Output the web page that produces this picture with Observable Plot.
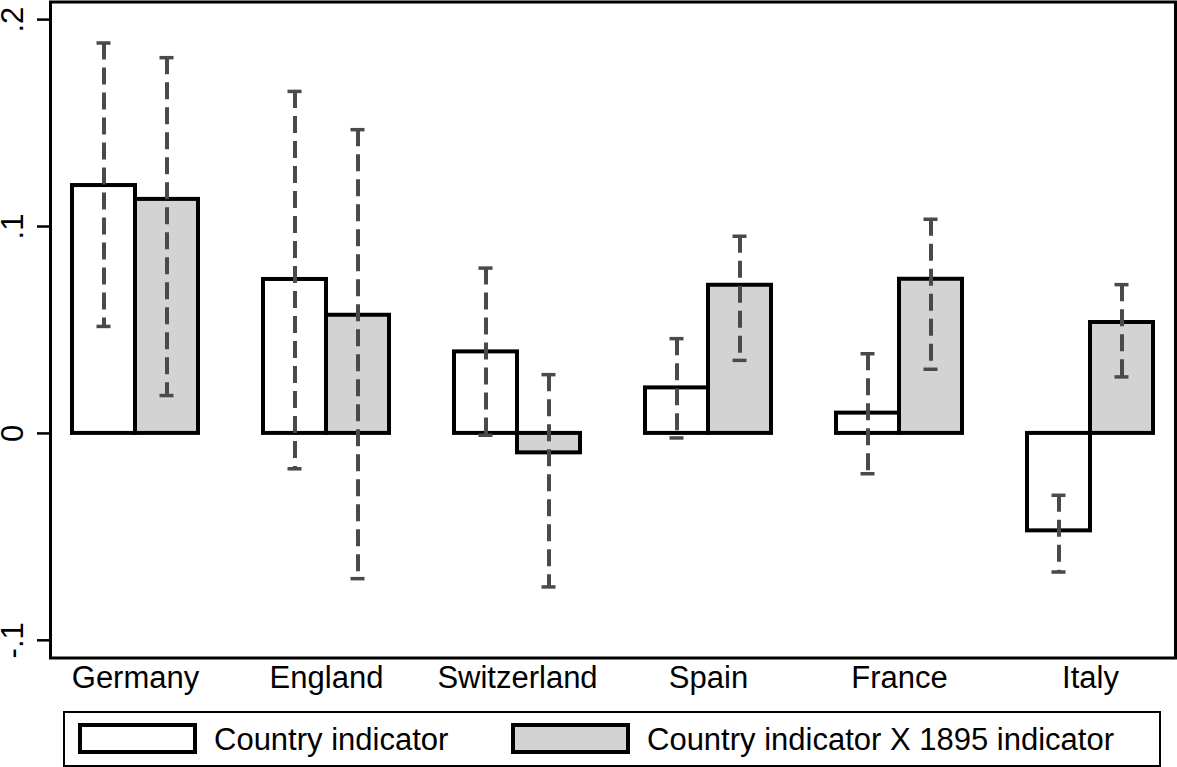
<!DOCTYPE html>
<html>
<head>
<meta charset="utf-8">
<script src="https://cdn.jsdelivr.net/npm/d3@7"></script>
<script src="https://cdn.jsdelivr.net/npm/@observablehq/plot@0.6"></script>
<style>
  html, body { margin: 0; padding: 0; background: white; }
  #wrap { position: relative; width: 1177px; height: 767px; overflow: hidden; font-family: "Liberation Sans", Arial, Helvetica, sans-serif; }
  #chart { position: absolute; left: 0; top: 0; }
  .legend-box { position: absolute; left: 63px; top: 711px; width: 1098px; height: 56px; border: 2px solid black; box-sizing: border-box; }
  .sw { position: absolute; top: 723px; width: 119px; height: 31px; border: 4px solid black; box-sizing: border-box; }
  .lt { position: absolute; top: 724px; font-size: 31px; line-height: 31px; color: black; white-space: nowrap; }
</style>
</head>
<body>
<div id="wrap">
  <div id="chart"></div>
  <div class="legend-box"></div>
  <div class="sw" id="sw0" style="left:78px"></div>
  <div class="lt" id="lt0" style="left:214px"></div>
  <div class="sw" id="sw1" style="left:511px"></div>
  <div class="lt" id="lt1" style="left:647px"></div>
</div>
<script>
// ---- data ----
const countries = ["Germany", "England", "Switzerland", "Spain", "France", "Italy"];
// Country indicator (white bars)
const countryCoef = [0.1198, 0.0744, 0.0394, 0.0220, 0.0098, -0.0471];
const countryLo   = [0.0517, -0.0171, -0.0009, -0.0022, -0.0195, -0.0670];
const countryHi   = [0.1887, 0.1653, 0.0799, 0.0458, 0.0385, -0.0299];
// Country indicator X 1895 indicator (gray bars)
const interCoef = [0.1131, 0.0571, -0.0094, 0.0716, 0.0745, 0.0536];
const interLo   = [0.0183, -0.0702, -0.0742, 0.0353, 0.0310, 0.0273];
const interHi   = [0.1816, 0.1468, 0.0284, 0.0953, 0.1035, 0.0719];
const yTicks = [-0.1, 0, 0.1, 0.2];
const yTickLabels = ["-.1", "0", ".1", ".2"];
const seriesLabels = ["Country indicator", "Country indicator X 1895 indicator"];
const seriesFills = ["white", "#d3d3d3"];

const rows = countries.map((c, i) => ({
  country: c,
  a: countryCoef[i], aLo: countryLo[i], aHi: countryHi[i],
  b: interCoef[i], bLo: interLo[i], bHi: interHi[i]
}));

const band = 126, half = band / 2, capW = 14;
const errColor = "#4a4a4a";
const font = "'Liberation Sans', Arial, Helvetica, sans-serif";

const chart = Plot.plot({
  width: 1177,
  height: 700,
  marginLeft: 50,
  marginRight: 2,
  marginTop: 1.5,
  marginBottom: 42.5,
  style: { fontFamily: font, background: "white", color: "black" },
  x: { type: "band", domain: countries, range: [71, 1154], paddingInner: 1 - band / 191.4, paddingOuter: 0 },
  y: { domain: [-0.10855, 0.20851] },
  marks: [
    Plot.barY(rows, { x: "country", y: "a", fill: seriesFills[0], stroke: "black", strokeWidth: 4, insetRight: half }),
    Plot.barY(rows, { x: "country", y: "b", fill: seriesFills[1], stroke: "black", strokeWidth: 4, insetLeft: half }),
    Plot.ruleX(rows, { x: "country", y1: "aHi", y2: "aLo", dx: -half / 2, stroke: errColor, strokeWidth: 4, strokeDasharray: "17,8" }),
    Plot.ruleX(rows, { x: "country", y1: "bHi", y2: "bLo", dx: half / 2, stroke: errColor, strokeWidth: 4, strokeDasharray: "17,8" }),
    Plot.tickY(rows, { x: "country", y: "aHi", stroke: errColor, strokeWidth: 3.5, insetLeft: half / 2 - capW / 2, insetRight: band - half / 2 - capW / 2 }),
    Plot.tickY(rows, { x: "country", y: "aLo", stroke: errColor, strokeWidth: 3.5, insetLeft: half / 2 - capW / 2, insetRight: band - half / 2 - capW / 2 }),
    Plot.tickY(rows, { x: "country", y: "bHi", stroke: errColor, strokeWidth: 3.5, insetLeft: band - half / 2 - capW / 2, insetRight: half / 2 - capW / 2 }),
    Plot.tickY(rows, { x: "country", y: "bLo", stroke: errColor, strokeWidth: 3.5, insetLeft: band - half / 2 - capW / 2, insetRight: half / 2 - capW / 2 }),
    Plot.frame({ stroke: "black", strokeWidth: 3 }),
    Plot.axisY({ ticks: yTicks, tickSize: 13, tickFormat: () => "", strokeWidth: 2.5, label: null }),
    Plot.text(yTicks, { y: d => d, text: (d, i) => yTickLabels[i], frameAnchor: "left", dx: -37.5, rotate: -90, textAnchor: "middle", lineAnchor: "middle", fontSize: 31, fill: "black" }),
    Plot.axisX({ tickSize: 0, tickPadding: 7.5, fontSize: 31, label: null, fill: "black" })
  ]
});
document.getElementById("chart").appendChild(chart);
document.getElementById("sw0").style.background = seriesFills[0];
document.getElementById("sw1").style.background = seriesFills[1];
document.getElementById("lt0").textContent = seriesLabels[0];
document.getElementById("lt1").textContent = seriesLabels[1];
</script>
</body>
</html>
